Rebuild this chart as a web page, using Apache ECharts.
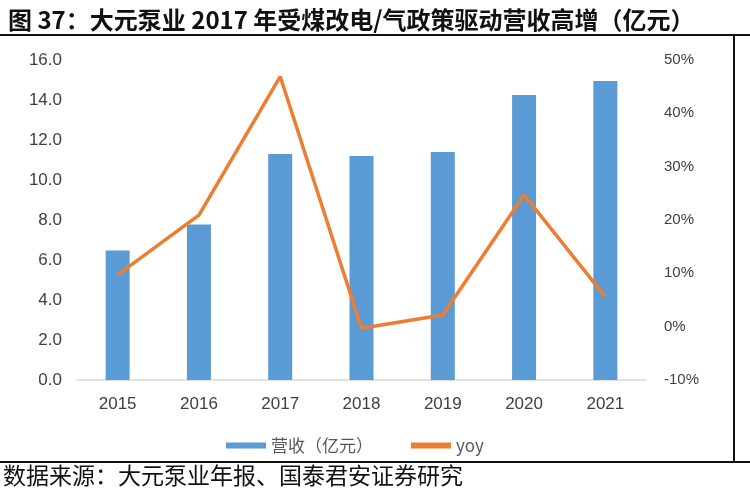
<!DOCTYPE html>
<html>
<head>
<meta charset="utf-8">
<script src="https://cdn.jsdelivr.net/npm/echarts@6/dist/echarts.min.js"></script>
<style>html,body{margin:0;padding:0;background:#fff;}#c{width:750px;height:500px;}</style>
</head>
<body>
<div id="c"></div>
<script>
var years = ['2015', '2016', '2017', '2018', '2019', '2020', '2021'];
var revenue = [6.47, 7.78, 11.3, 11.2, 11.4, 14.25, 14.95];
var yoy = [9.7, 20.9, 46.9, -0.3, 2.2, 24.7, 5.6];
var titleText = '图 37：大元泵业 2017 年受煤改电/气政策驱动营收高增（亿元）';
var sourceText = '数据来源：大元泵业年报、国泰君安证券研究';
var seriesNames = ['营收（亿元）', 'yoy'];

var chart = echarts.init(document.getElementById('c'));
var cjk = '"Noto Sans CJK SC", sans-serif';
chart.setOption({
  backgroundColor: '#fff',
  animation: false,
  title: {
    text: titleText,
    left: 3, top: 3,
    textStyle: { fontFamily: cjk, fontSize: 24, fontWeight: 'bold', color: '#111' }
  },
  graphic: [
    { type: 'line', shape: { x1: 0, y1: 35, x2: 750, y2: 35 }, style: { stroke: '#111', lineWidth: 2 } },
    { type: 'line', shape: { x1: 734, y1: 35, x2: 734, y2: 462 }, style: { stroke: '#111', lineWidth: 2 } },
    { type: 'line', shape: { x1: 0, y1: 462, x2: 750, y2: 462 }, style: { stroke: '#111', lineWidth: 2 } },
    { type: 'text', left: 3, top: 464, style: { text: sourceText, font: '23px ' + cjk, fill: '#111' } }
  ],
  legend: {
    data: [
      { name: seriesNames[0], icon: 'rect' },
      { name: seriesNames[1], icon: 'rect' }
    ],
    left: 221, top: 432,
    itemWidth: 40, itemHeight: 6, itemGap: 38,
    textStyle: { fontFamily: cjk, fontSize: 17, color: '#595959' }
  },
  grid: { left: 77, right: 104, top: 60, bottom: 120 },
  xAxis: {
    type: 'category',
    data: years,
    axisLine: { lineStyle: { color: '#d9d9d9', width: 1.5 } },
    axisTick: { show: false },
    axisLabel: { fontFamily: 'Liberation Sans, Arial', fontSize: 17, color: '#404040', margin: 16 }
  },
  yAxis: [
    {
      type: 'value', min: 0, max: 16, interval: 2,
      splitLine: { show: false },
      axisLine: { show: false }, axisTick: { show: false },
      axisLabel: { formatter: function (v) { return v.toFixed(1); }, fontFamily: 'Liberation Sans, Arial', fontSize: 17, color: '#404040', margin: 15 }
    },
    {
      type: 'value', min: -10, max: 50, interval: 10,
      splitLine: { show: false },
      axisLine: { show: false }, axisTick: { show: false },
      axisLabel: { formatter: '{value}%', fontFamily: 'Liberation Sans, Arial', fontSize: 15, color: '#404040', margin: 18 }
    }
  ],
  series: [
    {
      name: seriesNames[0], type: 'bar', data: revenue, barWidth: 24,
      itemStyle: { color: '#5B9BD5' }
    },
    {
      name: seriesNames[1], type: 'line', yAxisIndex: 1, data: yoy,
      symbol: 'none',
      lineStyle: { color: '#ED7D31', width: 3.5 },
      itemStyle: { color: '#ED7D31' }
    }
  ]
});
</script>
</body>
</html>
